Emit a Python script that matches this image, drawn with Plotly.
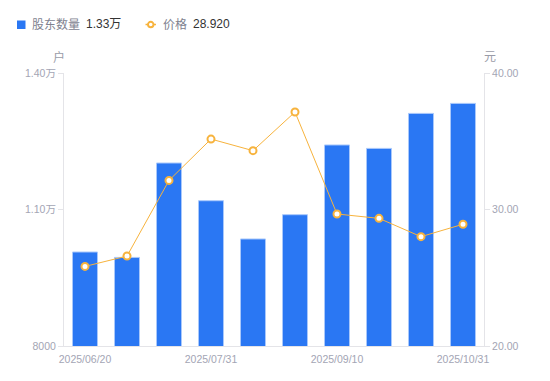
import plotly.graph_objects as go

dates = ["2025/06/20", "2025/06/30", "2025/07/10", "2025/07/31", "2025/08/10",
         "2025/08/20", "2025/09/10", "2025/09/19", "2025/09/30", "2025/10/31"]
holders = [10066, 9947, 12022, 11193, 10352, 10886, 12418, 12343, 13112, 13332]
prices = [25.83, 26.59, 32.13, 35.16, 34.31, 37.14, 29.67, 29.35, 28.01, 28.92]
shown_dates = ["2025/06/20", "2025/07/31", "2025/09/10", "2025/10/31"]
left_ticks = [8000, 11000, 14000]
left_labels = ["8000", "1.10万", "1.40万"]
right_ticks = [20, 30, 40]
right_labels = ["20.00", "30.00", "40.00"]

OFF = 8  # default page body margin
W, H = 550 - OFF, 381 - OFF
L, R, T, B = 64 - OFF, 484 - OFF, 73 - OFF, 346 - OFF

def px(x):
    return (x - OFF - L) / (R - L)

def py(y):
    return (B - (y - OFF)) / (B - T)

BLUE = "#2a77f3"
ORANGE = "#f7b33d"
TICK = "#a3a5b4"
AXIS = "#e4e4e8"
FONT = "Liberation Sans, Noto Sans CJK SC, sans-serif"

fig = go.Figure()
fig.add_trace(go.Bar(
    x=dates, y=holders, name="股东数量", marker=dict(color=BLUE, line=dict(color="#a9c8fb", width=1)),
    yaxis="y", showlegend=False,
))
fig.add_trace(go.Scatter(
    x=dates, y=prices, name="价格", mode="lines+markers", yaxis="y2",
    line=dict(color=ORANGE, width=1),
    marker=dict(symbol="circle", size=7, color="white", line=dict(color=ORANGE, width=2)),
    showlegend=False,
))

shapes = [
    dict(type="rect", xref="paper", yref="paper", x0=px(17), x1=px(25.5), y0=py(29), y1=py(20.5),
         fillcolor=BLUE, line=dict(width=0)),
    dict(type="line", xref="paper", yref="paper", x0=px(145.5), x1=px(156), y0=py(24.5), y1=py(24.5),
         line=dict(color=ORANGE, width=1.5)),
    dict(type="circle", xref="paper", yref="paper", x0=px(148), x1=px(153.5), y0=py(27.2), y1=py(21.8),
         fillcolor="white", line=dict(color=ORANGE, width=2)),
]

annotations = [
    dict(text="股东数量", x=px(30), y=py(24.5), xanchor="left", yanchor="middle",
         font=dict(size=12, color="#80828f")),
    dict(text="1.33万", x=px(84), y=py(24.5), xanchor="left", yanchor="middle",
         font=dict(size=12, color="#333333")),
    dict(text="价格", x=px(161), y=py(24.5), xanchor="left", yanchor="middle",
         font=dict(size=12, color="#80828f")),
    dict(text="28.920", x=px(191), y=py(24.5), xanchor="left", yanchor="middle",
         font=dict(size=12, color="#333333")),
    dict(text="户", x=px(58.5), y=py(57), xanchor="center", yanchor="middle",
         font=dict(size=12, color="#9a9ca8")),
    dict(text="元", x=px(490), y=py(57), xanchor="center", yanchor="middle",
         font=dict(size=12, color="#9a9ca8")),
]
for a in annotations:
    a.update(xref="paper", yref="paper", showarrow=False)

fig.update_layout(
    width=W, height=H,
    margin=dict(l=L, r=W - R, t=T, b=H - B, pad=0),
    paper_bgcolor="white", plot_bgcolor="white",
    font=dict(family=FONT, size=10.5, color=TICK),
    bargap=0.405,
    showlegend=False,
    shapes=shapes,
    annotations=annotations,
    xaxis=dict(
        type="category", range=[-0.5, len(dates) - 0.5],
        tickmode="array", tickvals=shown_dates, ticktext=shown_dates,
        showline=True, linecolor=AXIS, linewidth=1, ticks="", showgrid=False, zeroline=False,
        ticklabelstandoff=3,
        tickfont=dict(size=10.5, color=TICK),
    ),
    yaxis=dict(
        range=[left_ticks[0], left_ticks[-1]], tickmode="array", tickvals=left_ticks, ticktext=left_labels,
        showline=True, linecolor=AXIS, linewidth=1, ticks="outside", ticklen=5, tickcolor=AXIS,
        showgrid=False, zeroline=False, tickfont=dict(size=10.5, color=TICK),
    ),
    yaxis2=dict(
        range=[right_ticks[0], right_ticks[-1]], tickmode="array", tickvals=right_ticks, ticktext=right_labels,
        overlaying="y", side="right",
        showline=True, linecolor=AXIS, linewidth=1, ticks="outside", ticklen=5, tickcolor=AXIS,
        showgrid=False, zeroline=False, tickfont=dict(size=10.5, color=TICK),
    ),
)

fig.write_html("out.html")
